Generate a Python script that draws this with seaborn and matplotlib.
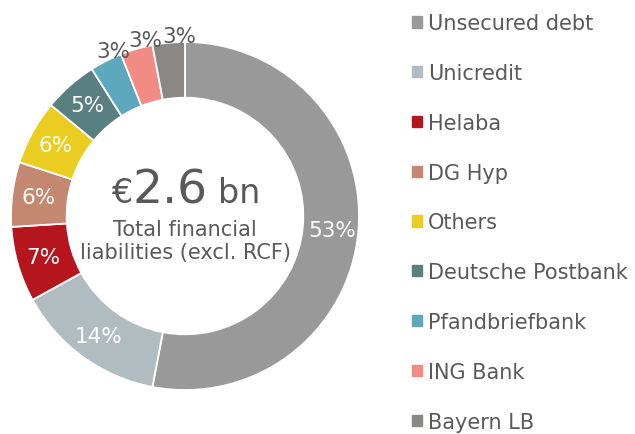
import matplotlib
matplotlib.use("Agg")
import matplotlib.pyplot as plt
import matplotlib.patches as mpatches
import numpy as np
import seaborn as sns

# data
lenders = ['Unsecured debt', 'Unicredit', 'Helaba', 'DG Hyp', 'Others',
           'Deutsche Postbank', 'Pfandbriefbank', 'ING Bank', 'Bayern LB']
shares = [53, 14, 7, 6, 6, 5, 3, 3, 3]
colors = ['#999999', '#b0bcc0', '#b5161e', '#c4876f', '#ebcd22',
          '#5a7f80', '#5ea8bd', '#f28b84', '#8c8787']
total_bn = 2.6

sns.set_theme(style="white")
plt.rcParams['font.family'] = ['DejaVu Sans']
text_grey = '#595959'

fig = plt.figure(figsize=(6.35, 4.35), dpi=100)
ax = fig.add_axes([11 / 635, 44 / 435, 348 / 635, 348 / 435])

wedges, _ = ax.pie(shares, colors=colors, startangle=90, counterclock=False,
                   radius=1.0,
                   wedgeprops=dict(width=0.32, edgecolor='white', linewidth=1.3))
ax.set_xlim(-1, 1)
ax.set_ylim(-1, 1)
ax.set_aspect('equal')
ax.axis('off')

for w, v in zip(wedges, shares):
    mid = np.deg2rad((w.theta1 + w.theta2) / 2)
    if v > 3:
        r = 0.85
        ax.text(r * np.cos(mid), r * np.sin(mid), f'{v}%', color='white',
                fontsize=15.5, ha='center', va='center')
    else:
        # small slices get their label outside the ring
        mid = mid - np.deg2rad(3.5)
        r = 1.035
        ax.text(r * np.cos(mid), r * np.sin(mid), f'{v}%', color=text_grey,
                fontsize=15.5, ha='center', va='center')

# centre text
ax.text(-0.305, 0.08, '€', fontsize=24, color=text_grey, ha='right', va='baseline')
ax.text(-0.30, 0.08, f'{total_bn}', fontsize=34, color=text_grey, ha='left', va='baseline')
ax.text(0.19, 0.08, 'bn', fontsize=24, color=text_grey, ha='left', va='baseline')
ax.text(0.0, -0.14, 'Total financial\nliabilities (excl. RCF)', fontsize=15,
        color=text_grey, ha='center', va='center', linespacing=1.15)

handles = [mpatches.Patch(color=c) for c in colors]
fig.legend(handles, lenders, loc='upper left', bbox_to_anchor=(404 / 635, 1 - 6 / 435),
           frameon=False, fontsize=15, labelcolor=text_grey,
           handlelength=0.45, handleheight=0.45, handletextpad=0.3,
           labelspacing=1.43, borderaxespad=0)

fig.savefig('out.png', dpi=100)
